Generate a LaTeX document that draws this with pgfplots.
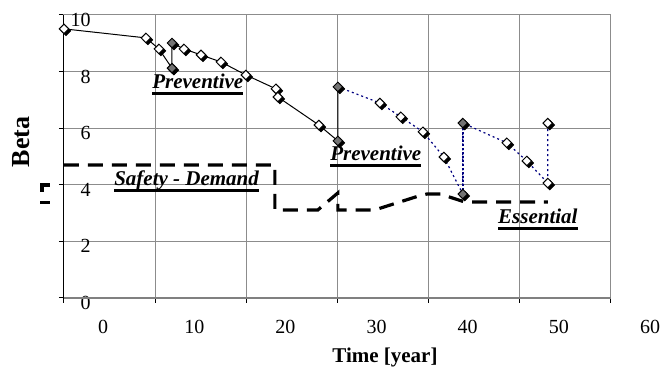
\documentclass[border=0pt]{standalone}
\usepackage{fontspec}
\setmainfont{Liberation Serif}
\usepackage{pgfplots}
\pgfplotsset{compat=1.18}
\usepackage{pgfplotstable}

\newcommand{\ulab}[1]{\setbox0\hbox{#1}\leavevmode\rlap{\rule[-2.8pt]{\wd0}{1.5pt}}\box0}

% solid black line (first life cycle)
\pgfplotstableread{
t b
-4.3 9.51
4.69 9.19
6.12 8.80
7.55 8.12
7.55 9.01
8.86 8.80
10.73 8.59
12.92 8.34
15.66 7.88
18.95 7.39
19.17 7.10
23.67 6.11
25.75 5.55
25.75 7.46
}\solidtab

% blue dotted line (after preventive)
\pgfplotstableread{
t b
25.75 7.46
30.36 6.89
32.66 6.40
35.08 5.87
37.38 4.98
39.46 3.67
39.46 6.18
44.29 5.48
46.48 4.84
48.78 4.06
48.78 6.18
}\dottab

% safety demand (dashed)
\pgfplotstableread{
t b
-4.3 4.70
18.84 4.70
18.84 3.11
23.56 3.11
25.75 3.71
25.75 3.11
29.8 3.11
34.6 3.60
35.5 3.67
37.0 3.67
39.68 3.39
48.78 3.39
}\dashtab

% white markers
\pgfplotstableread{
t b
-4.3 9.51
4.69 9.19
6.12 8.80
8.86 8.80
10.73 8.59
12.92 8.34
15.66 7.88
18.95 7.39
19.17 7.10
23.67 6.11
30.36 6.89
32.66 6.40
35.08 5.87
37.38 4.98
44.29 5.48
46.48 4.84
48.78 4.06
48.78 6.18
}\whitetab

% grey markers
\pgfplotstableread{
t b
7.55 8.12
7.55 9.01
25.75 5.55
25.75 7.46
39.46 3.67
39.46 6.18
}\greytab

\begin{document}
\begin{tikzpicture}
\begin{axis}[
  scale only axis, width=273.5pt, height=141.5pt,
  xmin=-4.3, xmax=55.7, ymin=0, ymax=10,
  clip=false,
  xtick={-4.3,5.7,15.7,25.7,35.7,45.7,55.7}, xticklabels={},
  ytick={0,2,4,6,8,10},
  grid=major, major grid style={black!45, line width=0.5pt},
  tick align=outside, major tick length=2.5pt, tick pos=left,
  tick style={black, line width=0.5pt},
  axis line style={black!45, line width=0.5pt},
  /pgf/number format/assume math mode=true,
  tick label style={font=\fontsize{10}{12}\selectfont},
  yticklabel style={anchor=east, inner sep=0pt, xshift=16pt, yshift=-2.5pt},
  extra x ticks={0,10,20,30,40,50},
  extra x tick labels={0,10,20,30,40,50},
  extra x tick style={grid=none, major tick length=0pt,
     xticklabel style={anchor=north, inner sep=0pt, yshift=-11pt}},
  xlabel={Time [year]},
  xlabel style={at={(rel axis cs:0.587,-0.2297)}, anchor=base, font=\fontsize{10.5}{12}\selectfont\bfseries},
  ylabel={Beta},
  ylabel style={at={(rel axis cs:-0.0786,0.551)}, anchor=center, font=\fontsize{13}{15}\selectfont\bfseries},
]
% frame accents
\draw[black, line width=0.5pt] (rel axis cs:0,0) -- (rel axis cs:0,1);
\draw[black!50, line width=1pt] (rel axis cs:0,0) -- (rel axis cs:1,0);

% safety demand
\addplot[black, line width=1.6pt, dash pattern=on 7.5pt off 4.5pt] table[x=t,y=b] {\dashtab};
\addplot[black, line width=1.6pt, dash pattern=on 7.5pt off 4.5pt] coordinates {(-5.84,3.99) (-6.71,3.99) (-6.71,3.36) (-5.84,3.36)};

% lines
\addplot[black, line width=0.5pt] table[x=t,y=b] {\solidtab};
\addplot[color={rgb,255:red,0;green,0;blue,128}, line width=0.6pt, dash pattern=on 1pt off 1.5pt] table[x=t,y=b] {\dottab};
\addplot[color={rgb,255:red,0;green,0;blue,128}, line width=1.2pt, dash pattern=on 1pt off 1pt] coordinates {(39.46,3.67) (39.46,6.18)};

% marker shadows
\addplot[only marks, mark=square*, mark size=1.68pt, mark options={xshift=1pt, yshift=-1pt, rotate=45, fill=black, draw=black}] table[x=t,y=b] {\whitetab};
\addplot[only marks, mark=square*, mark size=1.68pt, mark options={xshift=1pt, yshift=-1pt, rotate=45, fill=black, draw=black}] table[x=t,y=b] {\greytab};
% markers
\addplot[only marks, mark=square*, mark size=1.68pt, mark options={rotate=45, fill=white, draw=black, line width=0.5pt}] table[x=t,y=b] {\whitetab};
\addplot[only marks, mark=square*, mark size=1.68pt, mark options={rotate=45, fill=black!55, draw=black, line width=0.5pt}] table[x=t,y=b] {\greytab};

% annotations
\node[anchor=base west, inner sep=0pt, font=\fontsize{10.5}{12}\selectfont\bfseries\itshape] at (axis cs:5.35,7.385) {\ulab{Preventive}};
\node[anchor=base west, inner sep=0pt, font=\fontsize{10.5}{12}\selectfont\bfseries\itshape] at (axis cs:24.88,4.84) {\ulab{Preventive}};
\node[anchor=base west, inner sep=0pt, font=\fontsize{10.5}{12}\selectfont\bfseries\itshape] at (axis cs:1.18,3.958) {\ulab{Safety - Demand}};
\node[anchor=base west, inner sep=0pt, font=\fontsize{10.5}{12}\selectfont\bfseries\itshape] at (axis cs:43.30,2.615) {\ulab{Essential}};

% tick label beyond the axis
\node[anchor=north, inner sep=0pt, yshift=-11pt, font=\fontsize{10}{12}\selectfont] at (axis cs:60,0) {60};

% picture extent
\path (rel axis cs:-0.117,-0.2509) rectangle (rel axis cs:1.0896,1.053);
\end{axis}
\end{tikzpicture}
\end{document}
